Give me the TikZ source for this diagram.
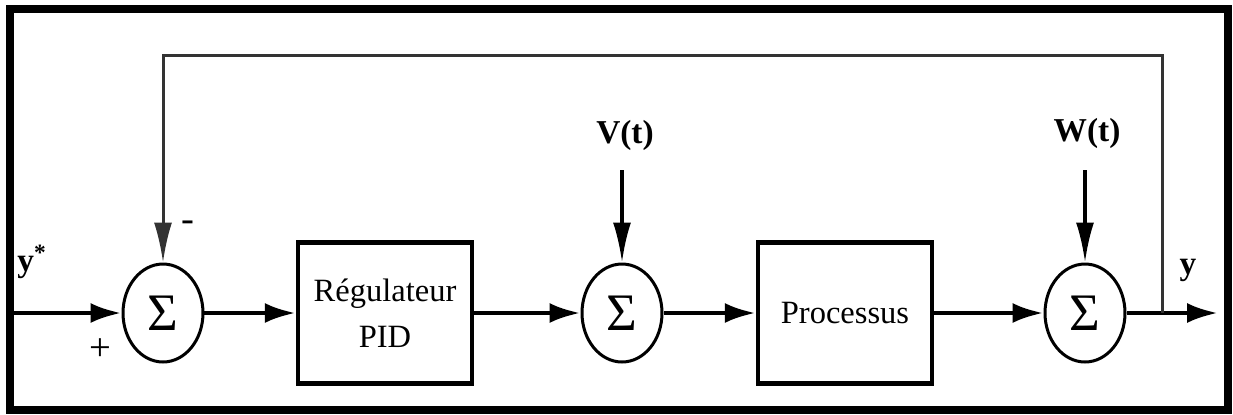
\documentclass[tikz,border=0pt]{standalone}
\usepackage{fontspec}
\setmainfont{Liberation Serif}
\usetikzlibrary{arrows.meta,shapes.geometric}

\begin{document}
\begin{tikzpicture}[x=0.02cm, y=-0.02cm,
  sumnode/.style={ellipse, draw, line width=0.06cm, minimum width=1.6cm, minimum height=1.96cm, inner sep=0pt, font=\fontsize{30}{34}\selectfont},
  block/.style={draw, line width=0.09cm, minimum width=3.48cm, minimum height=2.82cm, align=center, font=\fontsize{18.5}{26}\selectfont},
  sig/.style={line width=0.09cm, -{Latex[length=0.62cm, width=0.4cm]}},
  dist/.style={line width=0.07cm, -{Latex[length=0.8cm, width=0.36cm]}},
  lbl/.style={font=\fontsize{19}{22}\selectfont\bfseries}]
  \useasboundingbox (0,0) rectangle (1233,414);
  % Frame
  \draw[line width=0.16cm] (10,9) rectangle (1228,410);

  % Blocks and summing points
  \node[sumnode] (s1) at (163,313) {Σ};
  \node[block] (pid) at (385,313) {Régulateur\\PID};
  \node[sumnode] (s2) at (622,313) {Σ};
  \node[block] (proc) at (845,313) {Processus};
  \node[sumnode] (s3) at (1085,313) {Σ};

  % Inputs and outputs
  \coordinate (yin) at (14,313);
  \coordinate (yout) at (1218,313);
  \coordinate (tap) at (1162,313);
  \coordinate (fbtop) at (163,55);
  \coordinate (vin) at (622,170);
  \coordinate (win) at (1085,170);

  % Labels
  \node[lbl] (lyref) at (32,262) {y\textsuperscript{*}};
  \node[font=\fontsize{22}{24}\selectfont] (lplus) at (100,350) {+};
  \node[font=\fontsize{22}{24}\selectfont] (lminus) at (188,226) {-};
  \node[lbl] (lv) at (625,135) {V(t)};
  \node[lbl] (lw) at (1087,133) {W(t)};
  \node[lbl] (ly) at (1188,270) {y};

  % Main path
  \draw[sig] (yin) -- (s1);
  \draw[sig] (s1) -- (pid);
  \draw[sig] (pid) -- (s2);
  \draw[sig] (s2) -- (proc);
  \draw[sig] (proc) -- (s3);
  \draw[sig] (s3) -- (yout);

  % Disturbances
  \draw[dist] (vin) -- (s2);
  \draw[dist] (win) -- (s3);

  % Feedback
  \draw[line width=0.06cm, black!80, -{Latex[length=0.8cm, width=0.36cm]}] (tap) |- (fbtop) -- (s1);
\end{tikzpicture}
\end{document}
